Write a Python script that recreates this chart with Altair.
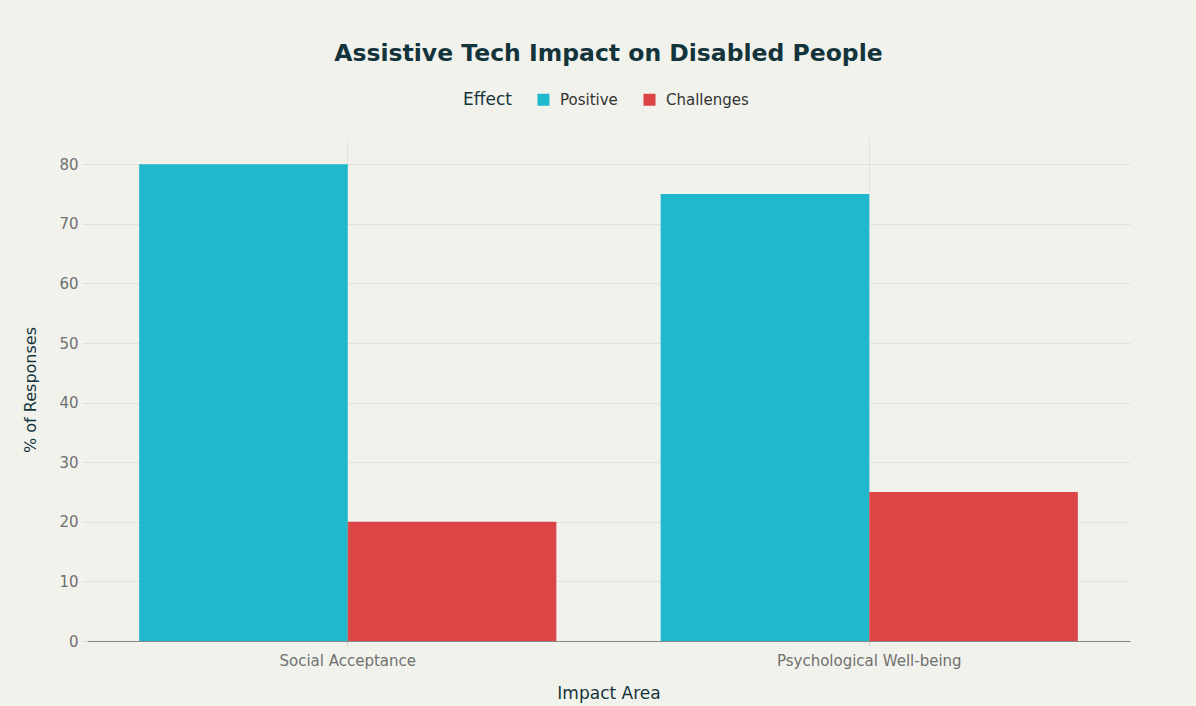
import altair as alt
import pandas as pd

areas = ["Social Acceptance", "Psychological Well-being"]
effects = ["Positive", "Challenges"]
positive = [80, 75]
challenges = [20, 25]
colors = ["#1FB8CD", "#DB4545"]

rows = []
for a, p, c in zip(areas, positive, challenges):
    rows.append({"Impact Area": a, "Effect": "Positive", "Value": p})
    rows.append({"Impact Area": a, "Effect": "Challenges", "Value": c})
df = pd.DataFrame(rows)

FONT = "DejaVu Sans"

chart = alt.Chart(df).mark_bar().encode(
    x=alt.X("Impact Area:N", sort=areas,
            scale=alt.Scale(paddingInner=0.2, paddingOuter=0.1),
            axis=alt.Axis(title="Impact Area", labelAngle=0, grid=True,
                          bandPosition=0.5, domainColor="#888888",
                          tickColor="#cccccc", tickSize=5,
                          labelColor="#707070", labelFontSize=15,
                          labelLimit=500,
                          labelPadding=7, titleFontSize=17,
                          titleColor="#13343b", titlePadding=17,
                          titleFontWeight="normal")),
    xOffset=alt.XOffset("Effect:N", sort=effects),
    y=alt.Y("Value:Q", scale=alt.Scale(domain=[0, 84.4], nice=False),
            axis=alt.Axis(title="% of Responses", values=list(range(0, 81, 10)),
                          domain=False, tickColor="#dddddd", tickSize=5,
                          labelColor="#707070", labelFontSize=15,
                          labelPadding=4, titleFontSize=16,
                          titleColor="#13343b", titlePadding=20,
                          titleFontWeight="normal")),
    color=alt.Color("Effect:N", sort=effects,
                    scale=alt.Scale(domain=effects, range=colors),
                    legend=alt.Legend(orient="none", legendX=376, legendY=-46,
                                      direction="horizontal",
                                      titleOrient="left", title="Effect",
                                      titleFontSize=17, titleColor="#13343b",
                                      titleFontWeight="normal",
                                      labelFontSize=15, labelColor="#333333",
                                      symbolType="square", symbolSize=144,
                                      labelOffset=9,
                                      titlePadding=24,
                                      columnPadding=24)),
).properties(
    width=1043,
    height=503,
    title=alt.TitleParams("Assistive Tech Impact on Disabled People",
                          fontSize=23.5, font=FONT, fontWeight="bold",
                          color="#13343b", anchor="middle", offset=27),
    padding={"left": 87, "top": 138, "right": 66, "bottom": 65},
    autosize=alt.AutoSizeParams(type="none"),
    background="#f2f2ed",
).configure_view(stroke=None).configure_axis(
    gridColor="#e2e2dc", labelFont=FONT, titleFont=FONT
).configure_legend(labelFont=FONT, titleFont=FONT)

chart.save("out.html", embed_options={"renderer": "svg", "actions": False})
